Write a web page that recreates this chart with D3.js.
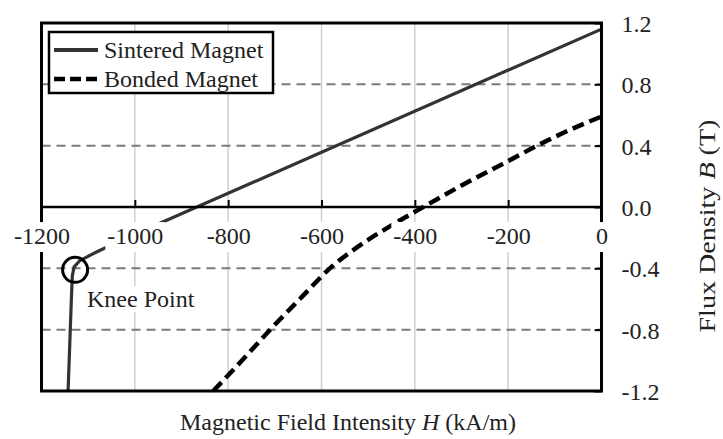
<!DOCTYPE html>
<html>
<head>
<meta charset="utf-8">
<script src="https://cdn.jsdelivr.net/npm/d3@7"></script>
<style>
  body { margin: 0; background: #fff; }
  svg { display: block; font-family: "Liberation Serif", "Times New Roman", serif; }
</style>
</head>
<body>
<svg width="723" height="439"></svg>
<script>
// Data
var hTicks = [-1200, -1000, -800, -600, -400, -200, 0];
var bTicks = [1.2, 0.8, 0.4, 0.0, -0.4, -0.8, -1.2];
var bGrid = [0.8, 0.4, -0.4, -0.8];

var sinteredH = [0, -1000, -1080, -1118, -1130, -1134, -1136, -1143];
var sinteredB = [1.16, -0.178, -0.29, -0.35, -0.39, -0.45, -0.6, -1.2];

var bondedH = [-832, -770, -710, -640, -582, -520, -450, -382, -300, -200, -138, -70, 0];
var bondedB = [-1.2, -1.0, -0.8, -0.58, -0.4, -0.255, -0.12, 0.0, 0.14, 0.3, 0.4, 0.5, 0.59];

var knee = {h: -1128, b: -0.41, label: "Knee Point"};
var legendLabels = ["Sintered Magnet", "Bonded Magnet"];

var sintered = sinteredH.map((h, i) => ({h: h, b: sinteredB[i]}));
var bonded = bondedH.map((h, i) => ({h: h, b: bondedB[i]}));

var svg = d3.select('svg');
var x = d3.scaleLinear().domain([-1200, 0]).range([41.5, 601.5]);
var y = d3.scaleLinear().domain([-1.2, 1.2]).range([391, 23]);

// gridlines
svg.append('g').selectAll('line').data(hTicks.slice(1, -1)).enter().append('line')
   .attr('x1', d => x(d)).attr('x2', d => x(d))
   .attr('y1', y(1.2)).attr('y2', y(-1.2))
   .attr('stroke', '#cfcfcf').attr('stroke-width', 1.5);

svg.append('g').selectAll('line').data(bGrid).enter().append('line')
   .attr('x1', x(-1200)).attr('x2', x(0))
   .attr('y1', d => y(d)).attr('y2', d => y(d))
   .attr('stroke', '#7a7a7a').attr('stroke-width', 2)
   .attr('stroke-dasharray', '9,6');

// curves
var line = d3.line().x(d => x(d.h)).y(d => y(d.b));
svg.append('path').datum(sintered)
   .attr('d', line.curve(d3.curveLinear))
   .attr('fill', 'none').attr('stroke', '#333').attr('stroke-width', 3.2);

svg.append('path').datum(bonded)
   .attr('d', d3.line().x(d => x(d.h)).y(d => y(d.b)).curve(d3.curveMonotoneX))
   .attr('fill', 'none').attr('stroke', '#000').attr('stroke-width', 4.5)
   .attr('stroke-dasharray', '12,6');

// zero axis line
svg.append('line')
   .attr('x1', x(-1200)).attr('x2', x(0)).attr('y1', y(0)).attr('y2', y(0))
   .attr('stroke', '#000').attr('stroke-width', 2.5);

// frame
svg.append('rect')
   .attr('x', x(-1200)).attr('y', y(1.2))
   .attr('width', x(0) - x(-1200)).attr('height', y(-1.2) - y(1.2))
   .attr('fill', 'none').attr('stroke', '#000').attr('stroke-width', 3);

// x axis on the zero line, ticks pointing up
var xAxis = svg.append('g')
   .attr('transform', 'translate(0,' + y(0) + ')')
   .call(d3.axisBottom(x).tickValues(hTicks).tickFormat(d => String(d))
         .tickSizeInner(-7).tickSizeOuter(0).tickPadding(20));
xAxis.select('.domain').remove();
xAxis.selectAll('.tick line').attr('stroke', '#000').attr('stroke-width', 2);
xAxis.selectAll('.tick text')
   .attr('font-family', '"Liberation Serif", serif')
   .attr('font-size', '24px').attr('fill', '#222');
xAxis.selectAll('.tick').each(function() {
  var t = d3.select(this).select('text');
  var bb = t.node().getBBox();
  d3.select(this).append('rect')
    .attr('x', bb.x - 2).attr('y', bb.y - 1)
    .attr('width', bb.width + 4).attr('height', bb.height + 4)
    .attr('fill', '#fff');
  t.raise();
});

// y axis on the right, ticks pointing in
var yAxis = svg.append('g')
   .attr('transform', 'translate(' + x(0) + ',0)')
   .call(d3.axisRight(y).tickValues(bTicks).tickFormat(d => d.toFixed(1))
         .tickSizeInner(-7).tickSizeOuter(0).tickPadding(20));
yAxis.select('.domain').remove();
yAxis.selectAll('.tick line').attr('stroke', '#000').attr('stroke-width', 2);
yAxis.selectAll('.tick text')
   .attr('font-family', '"Liberation Serif", serif')
   .attr('font-size', '24px').attr('fill', '#222')
   .attr('dy', '0.36em');

// knee annotation
svg.append('circle')
   .attr('cx', x(knee.h)).attr('cy', y(knee.b)).attr('r', 12.5)
   .attr('fill', 'none').attr('stroke', '#000').attr('stroke-width', 3);
var kneeG = svg.append('g');
var kneeText = kneeG.append('text')
   .attr('x', 87).attr('y', 307)
   .attr('font-size', '24px').attr('fill', '#222')
   .text(knee.label);
var kb = kneeText.node().getBBox();
kneeG.append('rect')
   .attr('x', kb.x - 2).attr('y', kb.y).attr('width', kb.width + 4).attr('height', kb.height)
   .attr('fill', '#fff');
kneeText.raise();

// legend
var legend = svg.append('g');
legend.append('rect')
   .attr('x', 49).attr('y', 32).attr('width', 224).attr('height', 61)
   .attr('fill', '#fff').attr('stroke', '#000').attr('stroke-width', 2.5);
legend.selectAll('line').data(legendLabels).enter().append('line')
   .attr('x1', 54).attr('x2', 98)
   .attr('y1', (d, i) => 50 + i * 29).attr('y2', (d, i) => 50 + i * 29)
   .attr('stroke', (d, i) => i === 0 ? '#333' : '#000')
   .attr('stroke-width', (d, i) => i === 0 ? 4 : 4.5)
   .attr('stroke-dasharray', (d, i) => i === 0 ? null : '11,5');
legend.selectAll('text').data(legendLabels).enter().append('text')
   .attr('x', 104).attr('y', (d, i) => 58 + i * 29)
   .attr('font-size', '24px').attr('fill', '#222')
   .text(d => d);

// axis titles
var xTitle = svg.append('text')
   .attr('x', 348).attr('y', 430)
   .attr('text-anchor', 'middle').attr('font-size', '24px').attr('fill', '#222');
xTitle.append('tspan').text('Magnetic Field Intensity ');
xTitle.append('tspan').attr('font-style', 'italic').text('H');
xTitle.append('tspan').text(' (kA/m)');

var yTitle = svg.append('text')
   .attr('transform', 'translate(715,226) rotate(-90)')
   .attr('text-anchor', 'middle').attr('font-size', '24px').attr('fill', '#222')
   .attr('textLength', 213).attr('lengthAdjust', 'spacingAndGlyphs');
yTitle.append('tspan').text('Flux Density ');
yTitle.append('tspan').attr('font-style', 'italic').text('B');
yTitle.append('tspan').text(' (T)');
</script>
</body>
</html>
